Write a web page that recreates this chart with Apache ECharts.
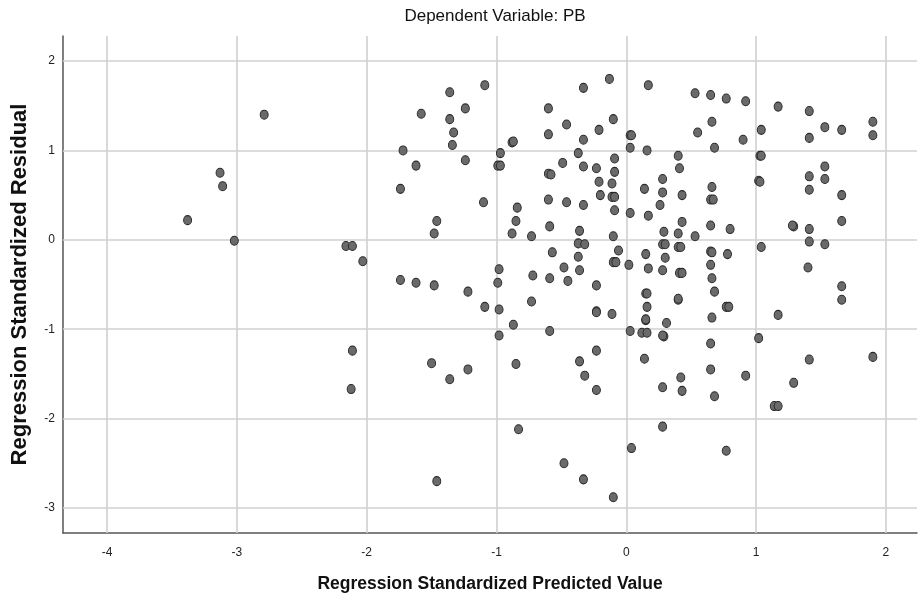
<!DOCTYPE html>
<html>
<head>
<meta charset="utf-8">
<script src="https://cdn.jsdelivr.net/npm/echarts@6/dist/echarts.min.js"></script>
<style>
html,body{margin:0;padding:0;background:#fff;}
#chart{width:919px;height:603px;}
</style>
</head>
<body>
<div id="chart"></div>
<script>
// Regression Standardized Predicted Value (x) / Regression Standardized Residual (y)
const predicted = [
 -3.38,-3.13,-3.11,-3.02,-2.79,-2.16,-2.11,-2.03,-2.11,-2.12,
 -1.72,-1.62,-1.74,-1.58,-1.36,-1.36,-1.33,-1.34,-1.24,-1.24,
 -1.09,-1.10,-1.46,-1.48,-0.88,-0.87,-0.97,-0.99,-0.97,-0.84,
 -0.85,-0.88,-0.73,-0.60,-0.60,-0.46,-0.33,-0.13,-0.33,-0.21,
 -0.10,-0.37,-0.49,-0.33,-0.23,-0.09,-0.09,-0.60,-0.58,-0.21,
 -0.11,-0.11,-0.09,-0.20,-0.60,-0.46,-0.33,-0.09,-0.59,-0.36,
 -0.10,-0.37,-0.32,-0.06,-0.57,-0.37,-0.10,-0.08,0.03,0.04,
 0.03,0.03,0.02,-0.98,-1.74,-1.62,-1.48,-1.22,-1.09,-0.99,
 -0.98,-0.87,-0.98,-0.72,-0.73,-0.59,-0.59,-0.48,-0.45,-0.36,
 -0.23,-0.23,-0.23,-0.11,-0.23,-0.36,-0.32,-0.23,0.03,-1.50,
 -1.36,-1.22,-0.85,-0.83,-0.48,-0.33,-0.10,-1.46,0.04,0.17,
 0.53,0.65,0.77,0.92,1.17,0.66,0.55,1.04,0.90,0.16,
 0.68,0.40,1.03,1.04,0.41,0.28,0.14,0.28,0.43,0.66,
 0.65,0.67,1.02,1.03,0.26,0.17,0.43,0.29,0.40,0.53,
 0.65,0.80,1.04,0.28,0.30,0.40,0.42,0.65,0.66,0.78,
 0.15,0.30,0.17,0.28,0.41,0.43,0.65,0.66,0.15,0.16,
 0.40,0.40,0.68,0.16,0.15,0.15,0.31,0.12,0.16,0.29,
 0.28,0.66,0.77,0.79,1.17,1.02,0.65,0.14,0.65,0.42,
 0.43,0.28,0.68,0.92,1.14,1.17,0.28,0.77,1.41,1.90,
 1.90,1.53,1.66,1.41,1.41,1.53,1.53,1.41,1.66,1.66,
 1.29,1.28,1.41,1.41,1.53,1.40,1.66,1.66,1.41,1.90,
 1.29
];
const residual = [
 0.22,0.75,0.60,-0.01,1.40,-0.07,-0.07,-0.24,-1.24,-1.67,
 1.00,0.83,0.57,1.41,1.65,1.35,1.20,1.06,1.47,0.89,
 1.73,0.42,0.21,0.07,1.09,1.10,0.97,0.83,0.83,0.36,
 0.21,0.07,0.04,1.47,1.18,1.29,1.70,1.80,1.12,1.23,
 1.35,0.97,0.86,0.82,0.80,0.91,0.76,0.74,0.73,0.65,
 0.63,0.48,0.48,0.50,0.45,0.42,0.39,0.33,0.15,0.10,
 0.04,-0.04,-0.05,-0.12,-0.14,-0.19,-0.25,-0.25,1.17,1.17,
 1.03,0.30,-0.28,-0.33,-0.45,-0.48,-0.51,-0.58,-0.75,-0.48,
 -0.78,-0.95,-1.07,-0.40,-0.69,-0.43,-1.02,-0.31,-0.46,-0.34,
 -0.51,-0.80,-0.81,-0.83,-1.24,-1.36,-1.52,-1.68,-1.02,-1.38,
 -1.56,-1.45,-1.39,-2.12,-2.50,-2.68,-2.88,-2.70,-2.33,1.73,
 1.64,1.62,1.58,1.55,1.49,1.32,1.20,1.23,1.12,1.00,
 1.03,0.94,0.94,0.94,0.80,0.68,0.57,0.53,0.50,0.59,
 0.45,0.45,0.66,0.65,0.39,0.27,0.20,0.09,0.07,0.04,
 0.16,0.12,-0.08,-0.05,-0.05,-0.08,-0.08,-0.13,-0.14,-0.16,
 -0.16,-0.20,-0.32,-0.34,-0.37,-0.37,-0.28,-0.43,-0.60,-0.60,
 -0.67,-0.66,-0.58,-0.75,-0.90,-0.89,-0.93,-1.04,-1.04,-1.08,
 -1.07,-0.87,-0.75,-0.75,-0.84,-1.10,-1.16,-1.33,-1.45,-1.54,
 -1.69,-1.65,-1.75,-1.52,-1.86,-1.86,-2.09,-2.36,1.44,1.32,
 1.17,1.26,1.23,1.14,0.71,0.82,0.68,0.56,0.50,0.21,
 0.15,0.16,0.12,-0.02,-0.05,-0.31,-0.52,-0.67,-1.34,-1.31,
 -1.60
];
const xTicks = [-4,-3,-2,-1,0,1,2];
const yTicks = [-3,-2,-1,0,1,2];
const titleText = 'Dependent Variable: PB';
const xName = 'Regression Standardized Predicted Value';
const yName = 'Regression Standardized Residual';

const points = predicted.map((x, i) => [x, residual[i]]);
const gridLineStyle = {color:'#d0d0d0', width:1.6, type:'solid'};
const font = 'Liberation Sans, Arial, sans-serif';

const chart = echarts.init(document.getElementById('chart'), null, {renderer:'canvas'});
chart.setOption({
  animation:false,
  backgroundColor:'#ffffff',
  title:{text:titleText, left:490, top:3, textAlign:'center',
    textStyle:{fontFamily:font, fontSize:17, fontWeight:'normal', color:'#111'}},
  grid:{left:63, right:2, top:36, bottom:70, containLabel:false},
  xAxis:{type:'value', min:-4.34, max:2.24,
    name:xName, nameLocation:'middle', nameGap:42,
    nameTextStyle:{fontFamily:font, fontSize:17.5, fontWeight:'bold', color:'#111'},
    axisLine:{show:true, onZero:false, lineStyle:{color:'#555', width:1.5}},
    axisTick:{show:false},
    axisLabel:{show:true, customValues:xTicks, margin:14,
      fontFamily:font, fontSize:12, color:'#222'},
    splitLine:{show:false}},
  yAxis:{type:'value', min:-3.28, max:2.28,
    name:yName, nameLocation:'middle', nameGap:32, nameRotate:90,
    nameTextStyle:{fontFamily:font, fontSize:22, fontWeight:'bold', color:'#111'},
    axisLine:{show:true, onZero:false, lineStyle:{color:'#555', width:1.5}},
    axisTick:{show:false},
    axisLabel:{show:true, customValues:yTicks, margin:8,
      fontFamily:font, fontSize:12, color:'#222'},
    splitLine:{show:false}},
  series:[{
    type:'scatter',
    data:points,
    symbol:'circle',
    symbolSize:[8,9],
    itemStyle:{color:'#6a6a6a', borderColor:'#2a2a2a', borderWidth:1, opacity:1},
    z:3,
    markLine:{
      silent:true, symbol:'none', animation:false, z:1,
      label:{show:false},
      lineStyle:gridLineStyle,
      data:[
        ...xTicks.map(v => ({xAxis:v})),
        ...yTicks.map(v => ({yAxis:v}))
      ]
    }
  }]
});
</script>
</body>
</html>
